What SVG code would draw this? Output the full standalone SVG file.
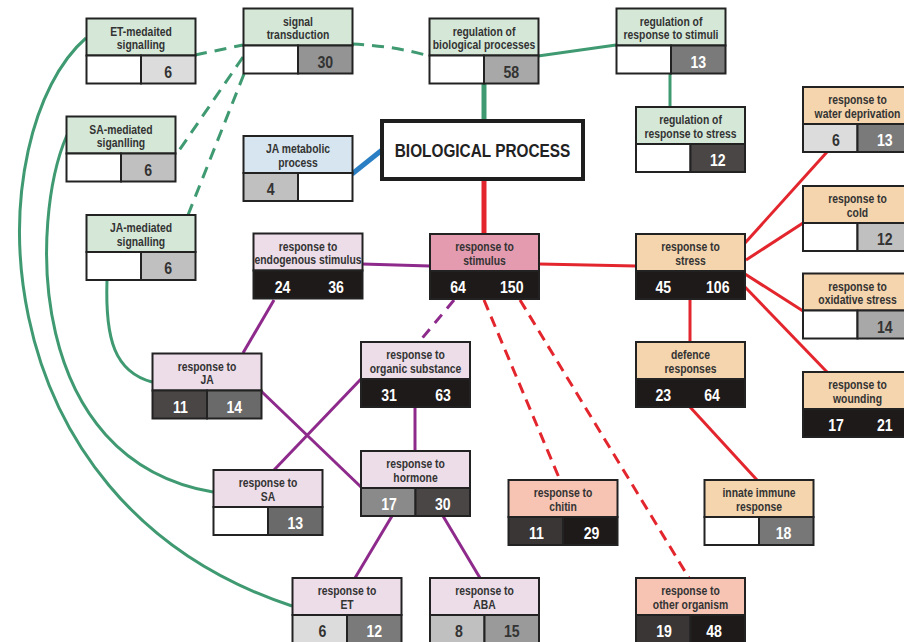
<svg xmlns="http://www.w3.org/2000/svg" width="904" height="642" viewBox="0 0 904 642">
<style>
.b{stroke:#222;stroke-width:2}
.gh{fill:#d5e8d8}.lh{fill:#ecdde9}.th{fill:#f5d5ae}.ph{fill:#e49bb0}.sh{fill:#f7c4b4}.bh{fill:#d6e5ef}
.h{font-family:"Liberation Sans",Arial,sans-serif;font-weight:bold;font-size:12.5px;fill:#333;text-anchor:middle}
.n{font-family:"Liberation Sans",Arial,sans-serif;font-weight:bold;font-size:17px;text-anchor:middle}
.w{fill:#fff}.k{fill:#333}
.g{stroke:#3f9a72;stroke-width:3;fill:none}
.r{stroke:#e3262d;stroke-width:3;fill:none}
.p{stroke:#8e2a8c;stroke-width:3;fill:none}
.d{stroke-dasharray:12 8}
</style>
<g id="connectors">
<path class="g d" d="M195,55 L243,45"/>
<path class="g d" d="M352,44 Q395,46 429,56"/>
<path class="g d" d="M243,57 L176,155"/>
<path class="g d" d="M244,74 L188,215"/>
<path class="g" d="M538,56 L616,45"/>
<path class="g" d="M484,83 L484,121" style="stroke-width:5"/>
<path class="g" d="M670,73 L670,107"/>
<path class="g" d="M86,38 C -20,130 -30,500 292,606"/>
<path class="g" d="M67,135 C 30,220 25,460 213,492"/>
<path class="g" d="M107,280 C 105,340 115,372 152,382"/>
<path d="M352,174 L382,150" stroke="#2a7fc4" stroke-width="5" fill="none"/>
<path class="p" d="M362,264 L430,266"/>
<path class="p" d="M274,300 L243,353"/>
<path class="p" d="M261,391 L361,487"/>
<path class="p" d="M361,379 L274,470"/>
<path class="p" d="M454,300 L419,342" style="stroke-dasharray:11 8"/>
<path class="p" d="M415,408 L415,451"/>
<path class="p" d="M392,516 L355,578"/>
<path class="p" d="M443,516 L480,578"/>
<path class="r" d="M484,179 L484,234" style="stroke-width:5"/>
<path class="r" d="M539,264 L636,266"/>
<path class="r" d="M484,300 L560,480" style="stroke-dasharray:11 7"/>
<path class="r" d="M520,300 L689,578" style="stroke-dasharray:11 7"/>
<path class="r" d="M745,243 L827,152"/>
<path class="r" d="M746,260 L803,223"/>
<path class="r" d="M745,274 L803,311"/>
<path class="r" d="M745,287 L827,372"/>
<path class="r" d="M690,299 L690,342"/>
<path class="r" d="M690,407 L757,480"/>
</g>

<g id="et-signalling" transform="translate(86.5,18.5)">
<rect class="b gh" width="109" height="37"/><rect class="b" y="37" width="54.5" height="28" fill="#fff"/><rect class="b" x="54.5" y="37" width="54.5" height="28" fill="#dcdcdc"/>
<text class="h" transform="translate(54.5,17) scale(.83,1)">ET-medaited</text><text class="h" transform="translate(54.5,30.5) scale(.83,1)">signalling</text>
<text class="n k" transform="translate(81.75,59) scale(.83,1)">6</text>
</g>
<g id="signal-transduction" transform="translate(243.5,8.5)">
<rect class="b gh" width="109" height="37"/><rect class="b" y="37" width="54.5" height="28" fill="#fff"/><rect class="b" x="54.5" y="37" width="54.5" height="28" fill="#949494"/>
<text class="h" transform="translate(54.5,17) scale(.83,1)">signal</text><text class="h" transform="translate(54.5,30.5) scale(.83,1)">transduction</text>
<text class="n k" transform="translate(81.75,59) scale(.83,1)">30</text>
</g>
<g id="sa-signalling" transform="translate(66.5,116.5)">
<rect class="b gh" width="109" height="37"/><rect class="b" y="37" width="54.5" height="28" fill="#fff"/><rect class="b" x="54.5" y="37" width="54.5" height="28" fill="#c0c0c0"/>
<text class="h" transform="translate(54.5,17) scale(.83,1)">SA-mediated</text><text class="h" transform="translate(54.5,30.5) scale(.83,1)">siganlling</text>
<text class="n k" transform="translate(81.75,59) scale(.83,1)">6</text>
</g>
<g id="ja-metabolic" transform="translate(243.5,136)">
<rect class="b bh" width="109" height="37"/><rect class="b" y="37" width="54.5" height="28" fill="#c0c0c0"/><rect class="b" x="54.5" y="37" width="54.5" height="28" fill="#fff"/>
<text class="h" transform="translate(54.5,17) scale(.83,1)">JA metabolic</text><text class="h" transform="translate(54.5,30.5) scale(.83,1)">process</text>
<text class="n k" transform="translate(27.25,59) scale(.83,1)">4</text>
</g>
<g id="ja-signalling" transform="translate(86.5,215)">
<rect class="b gh" width="109" height="37"/><rect class="b" y="37" width="54.5" height="28" fill="#fff"/><rect class="b" x="54.5" y="37" width="54.5" height="28" fill="#c0c0c0"/>
<text class="h" transform="translate(54.5,17) scale(.83,1)">JA-mediated</text><text class="h" transform="translate(54.5,30.5) scale(.83,1)">signalling</text>
<text class="n k" transform="translate(81.75,59) scale(.83,1)">6</text>
</g>
<g id="reg-bio" transform="translate(429.5,18.5)">
<rect class="b gh" width="109" height="37"/><rect class="b" y="37" width="54.5" height="28" fill="#fff"/><rect class="b" x="54.5" y="37" width="54.5" height="28" fill="#a8a8a8"/>
<text class="h" transform="translate(54.5,17) scale(.83,1)">regulation of</text><text class="h" transform="translate(54.5,30.5) scale(.83,1)">biological processes</text>
<text class="n k" transform="translate(81.75,59) scale(.83,1)">58</text>
</g>
<g id="reg-stimuli" transform="translate(616.5,8.5)">
<rect class="b gh" width="109" height="37"/><rect class="b" y="37" width="54.5" height="28" fill="#fff"/><rect class="b" x="54.5" y="37" width="54.5" height="28" fill="#7a7a7a"/>
<text class="h" transform="translate(54.5,17) scale(.83,1)">regulation of</text><text class="h" transform="translate(54.5,30.5) scale(.83,1)">response to stimuli</text>
<text class="n w" transform="translate(81.75,59) scale(.83,1)">13</text>
</g>
<g id="reg-stress" transform="translate(636,107)">
<rect class="b gh" width="109" height="37"/><rect class="b" y="37" width="54.5" height="28" fill="#fff"/><rect class="b" x="54.5" y="37" width="54.5" height="28" fill="#4a4646"/>
<text class="h" transform="translate(54.5,17) scale(.83,1)">regulation of</text><text class="h" transform="translate(54.5,30.5) scale(.83,1)">response to stress</text>
<text class="n w" transform="translate(81.75,59) scale(.83,1)">12</text>
</g>
<g id="biological-process">
<rect x="382" y="121" width="201" height="58" fill="#fff" stroke="#1e1e1e" stroke-width="4"/>
<text transform="translate(482.5,157) scale(.83,1)" font-family="Liberation Sans, Arial, sans-serif" font-weight="bold" font-size="18.5" fill="#222" text-anchor="middle">BIOLOGICAL PROCESS</text>
</g>
<g id="water" transform="translate(803,87)">
<rect class="b th" width="109" height="37"/><rect class="b" y="37" width="54.5" height="28" fill="#dcdcdc"/><rect class="b" x="54.5" y="37" width="54.5" height="28" fill="#7a7a7a"/>
<text class="h" transform="translate(54.5,17) scale(.83,1)">response to</text><text class="h" transform="translate(54.5,30.5) scale(.83,1)">water deprivation</text>
<text class="n k" transform="translate(33,59) scale(.83,1)">6</text><text class="n w" transform="translate(81.75,59) scale(.83,1)">13</text>
</g>
<g id="cold" transform="translate(803,186)">
<rect class="b th" width="109" height="37"/><rect class="b" y="37" width="54.5" height="28" fill="#fff"/><rect class="b" x="54.5" y="37" width="54.5" height="28" fill="#c0c0c0"/>
<text class="h" transform="translate(54.5,17) scale(.83,1)">response to</text><text class="h" transform="translate(54.5,30.5) scale(.83,1)">cold</text>
<text class="n k" transform="translate(81.75,59) scale(.83,1)">12</text>
</g>
<g id="stress" transform="translate(636,234)">
<rect class="b th" width="109" height="37"/><rect class="b" y="37" width="109" height="28" fill="#1e1a19"/>
<text class="h" transform="translate(54.5,17) scale(.83,1)">response to</text><text class="h" transform="translate(54.5,30.5) scale(.83,1)">stress</text>
<text class="n w" transform="translate(27.25,59) scale(.83,1)">45</text><text class="n w" transform="translate(81.75,59) scale(.83,1)">106</text>
</g>
<g id="oxidative" transform="translate(803,273.5)">
<rect class="b th" width="109" height="37"/><rect class="b" y="37" width="54.5" height="28" fill="#fff"/><rect class="b" x="54.5" y="37" width="54.5" height="28" fill="#a8a8a8"/>
<text class="h" transform="translate(54.5,17) scale(.83,1)">response to</text><text class="h" transform="translate(54.5,30.5) scale(.83,1)">oxidative stress</text>
<text class="n k" transform="translate(81.75,59) scale(.83,1)">14</text>
</g>
<g id="defence" transform="translate(636,342)">
<rect class="b th" width="109" height="37"/><rect class="b" y="37" width="109" height="28" fill="#1e1a19"/>
<text class="h" transform="translate(54.5,17) scale(.83,1)">defence</text><text class="h" transform="translate(54.5,30.5) scale(.83,1)">responses</text>
<text class="n w" transform="translate(27.25,59) scale(.83,1)">23</text><text class="n w" transform="translate(76,59) scale(.83,1)">64</text>
</g>
<g id="wounding" transform="translate(803,372)">
<rect class="b th" width="109" height="37"/><rect class="b" y="37" width="109" height="28" fill="#1e1a19"/>
<text class="h" transform="translate(54.5,17) scale(.83,1)">response to</text><text class="h" transform="translate(54.5,30.5) scale(.83,1)">wounding</text>
<text class="n w" transform="translate(33,59) scale(.83,1)">17</text><text class="n w" transform="translate(81.75,59) scale(.83,1)">21</text>
</g>
<g id="endogenous" transform="translate(253.5,233.5)">
<rect class="b lh" width="109" height="37"/><rect class="b" y="37" width="109" height="28" fill="#1e1a19"/>
<text class="h" transform="translate(54.5,17) scale(.83,1)">response to</text><text class="h" transform="translate(54.5,30.5) scale(.83,1)">endogenous stimulus</text>
<text class="n w" transform="translate(29,59) scale(.83,1)">24</text><text class="n w" transform="translate(82.5,59) scale(.83,1)">36</text>
</g>
<g id="stimulus" transform="translate(430,234)">
<rect class="b ph" width="109" height="37"/><rect class="b" y="37" width="109" height="28" fill="#1e1a19"/>
<text class="h" transform="translate(54.5,17) scale(.83,1)">response to</text><text class="h" transform="translate(54.5,30.5) scale(.83,1)">stimulus</text>
<text class="n w" transform="translate(28,59) scale(.83,1)">64</text><text class="n w" transform="translate(81.75,59) scale(.83,1)">150</text>
</g>
<g id="ja" transform="translate(152.5,353.5)">
<rect class="b lh" width="109" height="37"/><rect class="b" y="37" width="54.5" height="28" fill="#4a4646"/><rect class="b" x="54.5" y="37" width="54.5" height="28" fill="#6a6a6a"/>
<text class="h" transform="translate(54.5,17) scale(.83,1)">response to</text><text class="h" transform="translate(54.5,30.5) scale(.83,1)">JA</text>
<text class="n w" transform="translate(28,59) scale(.83,1)">11</text><text class="n w" transform="translate(81.75,59) scale(.83,1)">14</text>
</g>
<g id="organic" transform="translate(361,342)">
<rect class="b lh" width="109" height="37"/><rect class="b" y="37" width="109" height="28" fill="#1e1a19"/>
<text class="h" transform="translate(54.5,17) scale(.83,1)">response to</text><text class="h" transform="translate(54.5,30.5) scale(.83,1)">organic substance</text>
<text class="n w" transform="translate(28,59) scale(.83,1)">31</text><text class="n w" transform="translate(82,59) scale(.83,1)">63</text>
</g>
<g id="sa" transform="translate(213.5,470)">
<rect class="b lh" width="109" height="37"/><rect class="b" y="37" width="54.5" height="28" fill="#fff"/><rect class="b" x="54.5" y="37" width="54.5" height="28" fill="#6a6a6a"/>
<text class="h" transform="translate(54.5,17) scale(.83,1)">response to</text><text class="h" transform="translate(54.5,30.5) scale(.83,1)">SA</text>
<text class="n w" transform="translate(81.75,59) scale(.83,1)">13</text>
</g>
<g id="hormone" transform="translate(361,451)">
<rect class="b lh" width="109" height="37"/><rect class="b" y="37" width="54.5" height="28" fill="#8a8a8a"/><rect class="b" x="54.5" y="37" width="54.5" height="28" fill="#4a4646"/>
<text class="h" transform="translate(54.5,17) scale(.83,1)">response to</text><text class="h" transform="translate(54.5,30.5) scale(.83,1)">hormone</text>
<text class="n w" transform="translate(28,59) scale(.83,1)">17</text><text class="n w" transform="translate(81.75,59) scale(.83,1)">30</text>
</g>
<g id="et" transform="translate(292.5,578)">
<rect class="b lh" width="109" height="37"/><rect class="b" y="37" width="54.5" height="28" fill="#dcdcdc"/><rect class="b" x="54.5" y="37" width="54.5" height="28" fill="#7a7a7a"/>
<text class="h" transform="translate(54.5,17) scale(.83,1)">response to</text><text class="h" transform="translate(54.5,30.5) scale(.83,1)">ET</text>
<text class="n k" transform="translate(30,59) scale(.83,1)">6</text><text class="n w" transform="translate(81.75,59) scale(.83,1)">12</text>
</g>
<g id="aba" transform="translate(430,578)">
<rect class="b lh" width="109" height="37"/><rect class="b" y="37" width="54.5" height="28" fill="#c0c0c0"/><rect class="b" x="54.5" y="37" width="54.5" height="28" fill="#9a9a9a"/>
<text class="h" transform="translate(54.5,17) scale(.83,1)">response to</text><text class="h" transform="translate(54.5,30.5) scale(.83,1)">ABA</text>
<text class="n k" transform="translate(29,59) scale(.83,1)">8</text><text class="n k" transform="translate(81.75,59) scale(.83,1)">15</text>
</g>
<g id="chitin" transform="translate(508.5,480)">
<rect class="b sh" width="109" height="37"/><rect class="b" y="37" width="54.5" height="28" fill="#3a3636"/><rect class="b" x="54.5" y="37" width="54.5" height="28" fill="#1e1a19"/>
<text class="h" transform="translate(54.5,17) scale(.83,1)">response to</text><text class="h" transform="translate(54.5,30.5) scale(.83,1)">chitin</text>
<text class="n w" transform="translate(28,59) scale(.83,1)">11</text><text class="n w" transform="translate(83,59) scale(.83,1)">29</text>
</g>
<g id="innate" transform="translate(704.5,480)">
<rect class="b th" width="109" height="37"/><rect class="b" y="37" width="54.5" height="28" fill="#fff"/><rect class="b" x="54.5" y="37" width="54.5" height="28" fill="#777"/>
<text class="h" transform="translate(54.5,17) scale(.83,1)">innate immune</text><text class="h" transform="translate(54.5,30.5) scale(.83,1)">response</text>
<text class="n w" transform="translate(79,59) scale(.83,1)">18</text>
</g>
<g id="other-organism" transform="translate(636,578)">
<rect class="b sh" width="109" height="37"/><rect class="b" y="37" width="54.5" height="28" fill="#3a3636"/><rect class="b" x="54.5" y="37" width="54.5" height="28" fill="#1e1a19"/>
<text class="h" transform="translate(54.5,17) scale(.83,1)">response to</text><text class="h" transform="translate(54.5,30.5) scale(.83,1)">other organism</text>
<text class="n w" transform="translate(28,59) scale(.83,1)">19</text><text class="n w" transform="translate(78,59) scale(.83,1)">48</text>
</g>
</svg>
